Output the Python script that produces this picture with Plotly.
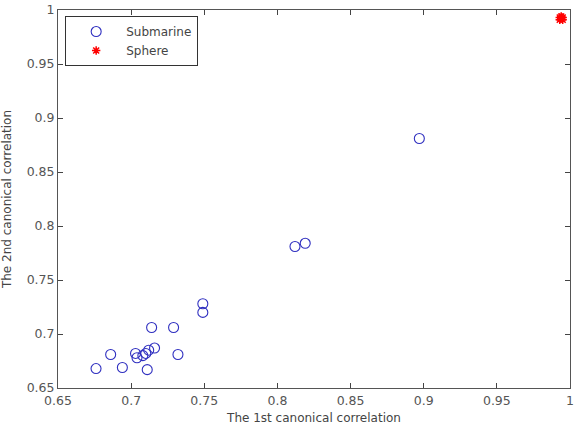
import plotly.graph_objects as go

sub_x = [0.676, 0.686, 0.694, 0.703, 0.704, 0.708, 0.710, 0.712, 0.716, 0.711,
         0.714, 0.729, 0.732, 0.749, 0.749, 0.812, 0.819, 0.897]
sub_y = [0.668, 0.681, 0.669, 0.682, 0.678, 0.680, 0.682, 0.685, 0.687, 0.667,
         0.706, 0.706, 0.681, 0.728, 0.720, 0.781, 0.784, 0.881]

sph_x = [0.993, 0.994, 0.995, 0.994, 0.993, 0.995]
sph_y = [0.991, 0.992, 0.993, 0.994, 0.993, 0.991]

tick_vals = [0.65, 0.7, 0.75, 0.8, 0.85, 0.9, 0.95, 1.0]
tick_text = ["0.65", "0.7", "0.75", "0.8", "0.85", "0.9", "0.95", "1"]

FONT = "DejaVu Sans"

fig = go.Figure()
fig.add_trace(go.Scatter(
    x=sub_x, y=sub_y, mode="markers", name="Submarine",
    marker=dict(symbol="circle-open", size=10, color="#3030c0", line=dict(width=1.1)),
))
fig.add_trace(go.Scatter(
    x=sph_x, y=sph_y, mode="markers", name="Sphere",
    marker=dict(symbol="asterisk-open", size=7, color="#ff0000", line=dict(width=1.5, color="#ff0000")),
))

axis_common = dict(
    tickvals=tick_vals, ticktext=tick_text,
    ticks="inside", ticklen=5, tickcolor="#444444", tickwidth=1,
    showline=True, linecolor="#555555", linewidth=1, mirror="ticks",
    showgrid=False, zeroline=False, automargin=False,
    tickfont=dict(family=FONT, size=12.5, color="#555555"),
)

fig.update_layout(
    width=576, height=428,
    margin=dict(l=58, r=6, t=10, b=40),
    paper_bgcolor="white", plot_bgcolor="white",
    xaxis=dict(range=[0.65, 1.0], ticklabelstandoff=1,
               title=dict(text="The 1st canonical correlation", standoff=6,
                          font=dict(family=FONT, size=12, color="#444444")), **axis_common),
    yaxis=dict(range=[0.65, 1.0],
               title=dict(text="The 2nd canonical correlation", standoff=12,
                          font=dict(family=FONT, size=12, color="#444444")), **axis_common),
    legend=dict(
        x=0.014, y=0.984, xanchor="left", yanchor="top",
        bgcolor="white", bordercolor="#333333", borderwidth=1,
        font=dict(family=FONT, size=12, color="#444444"),
        itemwidth=50, tracegroupgap=0,
    ),
    showlegend=True,
)

fig.write_html("out.html")
